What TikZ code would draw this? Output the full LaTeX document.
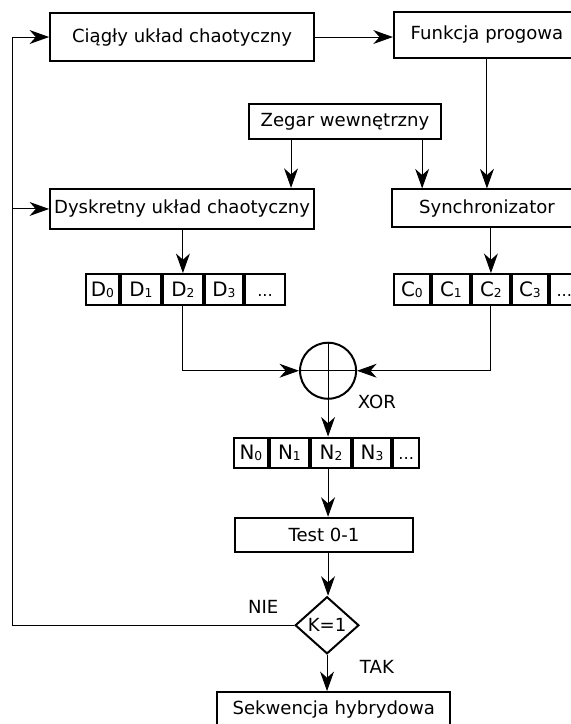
\documentclass[tikz,border=0pt]{standalone}
\usepackage{fontspec}
\setmainfont{DejaVu Sans}
\usepackage{tikz}
\usetikzlibrary{arrows.meta,positioning,shapes.geometric}
\newcommand{\idx}[1]{\raisebox{-0.6pt}{\fontsize{6.8}{7}\selectfont #1}}
\newcommand{\kropki}{\vphantom{D\idx{0}}{\fontsize{9}{11}\selectfont ...}}

\begin{document}
\begin{tikzpicture}[node distance=5mm, >={Stealth[length=3.8mm,width=2.7mm,inset=1.2mm]}, line width=0.55pt]
\tikzstyle{b}=[draw, line width=1.1pt, align=center, inner sep=2pt]
\tikzstyle{cell}=[draw, line width=1.1pt, minimum height=0.6cm, inner sep=1pt, font=\fontsize{11}{13}\selectfont]
\useasboundingbox (0,0) rectangle (11.10,-14.08);
% gorny wiersz
\node[b, minimum width=5.13cm, minimum height=0.93cm] (ciagly) at (3.54,-0.72) {Ciągły układ chaotyczny};
\node[b, minimum width=3.62cm, minimum height=0.91cm] (funkcja) at (9.47,-0.68) {Funkcja progowa};
\node[b, minimum width=3.73cm, minimum height=0.68cm] (zegar) at (6.71,-2.36) {Zegar wewnętrzny};
\node[b, below=2.45cm of ciagly, minimum width=5.13cm, minimum height=0.78cm] (dysk) {Dyskretny układ chaotyczny};
\node[b, below=2.51cm of funkcja, minimum width=3.68cm, minimum height=0.74cm] (sync) {Synchronizator};
% sekwencje D i C
\node[cell, minimum width=0.64cm] (d0) at (1.99,-5.63) {D\idx{0}};
\node[cell, minimum width=0.78cm, right=0pt of d0] (d1) {D\idx{1}};
\node[cell, minimum width=0.78cm, right=0pt of d1] (d2) {D\idx{2}};
\node[cell, minimum width=0.74cm, right=0pt of d2] (d3) {D\idx{3}};
\node[cell, minimum width=0.78cm, right=0pt of d3] (d4) {\kropki};
\node[cell, minimum width=0.70cm] (c0) at (8.01,-5.63) {C\idx{0}};
\node[cell, minimum width=0.74cm, right=0pt of c0] (c1) {C\idx{1}};
\node[cell, minimum width=0.74cm, right=0pt of c1] (c2) {C\idx{2}};
\node[cell, minimum width=0.70cm, right=0pt of c2] (c3) {C\idx{3}};
\node[cell, minimum width=0.56cm, right=0pt of c3] (c4) {\kropki};
% XOR
\node[circle, draw, line width=1.1pt, minimum size=1.09cm, inner sep=0pt] (xor) at (6.38,-7.21) {};
\draw (xor.north) -- (xor.south);
\draw (xor.west) -- (xor.east);
\node (xorlbl) at (7.33,-7.82) {XOR};
\node[cell, minimum width=0.66cm] (n0) at (4.88,-8.81) {N\idx{0}};
\node[cell, minimum width=0.76cm, right=0pt of n0] (n1) {N\idx{1}};
\node[cell, minimum width=0.78cm, right=0pt of n1] (n2) {N\idx{2}};
\node[cell, minimum width=0.74cm, right=0pt of n2] (n3) {N\idx{3}};
\node[cell, minimum width=0.51cm, right=0pt of n3] (n4) {\kropki};
% test i decyzja
\node[b, minimum width=3.46cm, minimum height=0.66cm] (test) at (6.30,-10.40) {Test 0-1};
\node[diamond, draw, line width=1.1pt, aspect=1.1, inner sep=1pt, minimum width=1.24cm, minimum height=1.11cm] (k) at (6.36,-12.16) {K=1};
\node[b, minimum width=4.53cm, minimum height=0.66cm] (sek) at (6.49,-13.79) {Sekwencja hybrydowa};
\node (nie) at (5.12,-11.81) {NIE};
\node (tak) at (7.33,-12.97) {TAK};
\coordinate (fb) at (0.25,0);
% polaczenia
\draw[->] (ciagly.east) -- (ciagly.east -| funkcja.west);
\draw[->] (funkcja.south) -- (funkcja.south |- sync.north);
\draw[->] ([xshift=-1.05cm]zegar.south) -- ([xshift=-1.05cm]zegar.south |- dysk.north);
\draw[->] ([xshift=1.5cm]zegar.south) -- ([xshift=1.5cm]zegar.south |- sync.north);
\draw[->] (dysk.south -| d2) -- (d2.north);
\draw[->] (sync.south -| c2) -- (c2.north);
\draw[->] (d2.south) |- (xor.west);
\draw[->] (c2.south) |- (xor.east);
\draw[->] (xor.south) -- (xor.south |- n2.north);
\draw[->] (xor.south |- n2.south) -- (xor.south |- test.north);
\draw[->] (xor.south |- test.south) -- (xor.south |- k.north);
\draw[->] (k.south) -- (k.south |- sek.north);
\draw[->] (k.west) -- (k.west -| fb) |- (ciagly.west);
\draw[->] (fb |- dysk.west) -- (dysk.west);
\end{tikzpicture}
\end{document}
